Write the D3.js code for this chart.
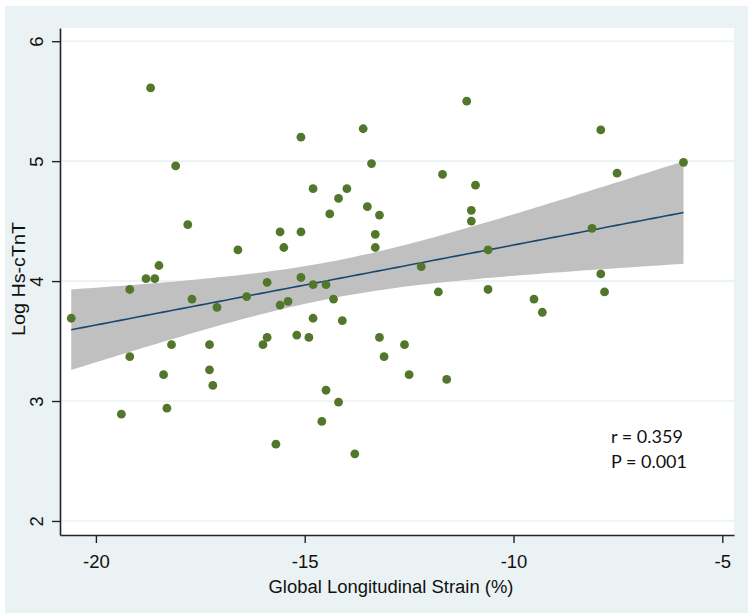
<!DOCTYPE html>
<html>
<head>
<meta charset="utf-8">
<script src="https://cdn.jsdelivr.net/npm/d3@7"></script>
<style>
  body { margin: 0; background: #fff; }
  svg { display: block; }
</style>
</head>
<body>
<div id="chart"></div>
<script>
// values
var gls = [-18.69, -18.09, -17.80, -18.49, -18.80, -18.59, -19.19, -17.70, -17.10, -20.59, -18.19, -17.28, -19.19, -18.38, -17.28, -17.20, -18.30, -19.39,
  -15.09, -13.60, -13.40, -14.80, -13.99, -14.19, -14.40, -13.50, -13.21, -15.59, -15.09, -13.31, -15.50, -13.31, -16.60, -15.09, -15.90, -14.80, -14.49, -16.39,
  -15.59, -15.40, -14.31, -14.80, -14.10, -15.90, -16.00, -15.19, -14.90, -13.21, -13.10, -14.49, -14.19, -14.59, -15.69, -13.80,
  -11.12, -11.70, -10.91, -11.01, -11.01, -10.61, -12.21, -11.80, -10.61, -9.51, -9.31, -12.61, -12.50, -11.60,
  -7.91, -7.52, -5.93, -8.12, -7.91, -7.82];
var logTnT = [5.61, 4.96, 4.47, 4.13, 4.02, 4.02, 3.93, 3.85, 3.78, 3.69, 3.47, 3.47, 3.37, 3.22, 3.26, 3.13, 2.94, 2.89,
  5.20, 5.27, 4.98, 4.77, 4.77, 4.69, 4.56, 4.62, 4.55, 4.41, 4.41, 4.39, 4.28, 4.28, 4.26, 4.03, 3.99, 3.97, 3.97, 3.87,
  3.80, 3.83, 3.85, 3.69, 3.67, 3.53, 3.47, 3.55, 3.53, 3.53, 3.37, 3.09, 2.99, 2.83, 2.64, 2.56,
  5.50, 4.89, 4.80, 4.59, 4.50, 4.26, 4.12, 3.91, 3.93, 3.85, 3.74, 3.47, 3.22, 3.18,
  5.26, 4.90, 4.99, 4.44, 4.06, 3.91];
var xTicks = [-20, -15, -10, -5];
var yTicks = [2, 3, 4, 5, 6];
var statLines = ["r = 0.359", "P = 0.001"];

var W = 748, H = 615;
var plot = {left: 60, top: 28, right: 734, bottom: 535};
var axisFont = "'Liberation Sans', Arial, sans-serif";

var svg = d3.select("#chart").append("svg")
    .attr("width", W)
    .attr("height", H);

// graph region + plot region
svg.append("rect").attr("x", 5).attr("y", 6).attr("width", W - 5).attr("height", 607).attr("fill", "#eaf2f3");
svg.append("rect").attr("x", plot.left).attr("y", plot.top)
    .attr("width", plot.right - plot.left).attr("height", plot.bottom - plot.top).attr("fill", "#fff");

var x = d3.scaleLinear().domain([-20.86, -4.72]).range([plot.left, plot.right]);
var y = d3.scaleLinear().domain([1.883, 6.11]).range([plot.bottom, plot.top]);

// grid
svg.append("g").selectAll("line").data(yTicks).enter().append("line")
    .attr("x1", plot.left).attr("x2", plot.right)
    .attr("y1", function(d) { return y(d); }).attr("y2", function(d) { return y(d); })
    .style("stroke", "#eaf2f3").style("stroke-width", 1.6);

// linear fit with 95% CI (like lfitci)
var pts = gls.map(function(g, i) { return {x: g, y: logTnT[i]}; });
var n = pts.length;
var mx = d3.mean(gls), my = d3.mean(logTnT);
var sxx = d3.sum(gls, function(d) { return (d - mx) * (d - mx); });
var sxy = d3.sum(pts, function(d) { return (d.x - mx) * (d.y - my); });
var b = sxy / sxx, a = my - b * mx;
var sse = d3.sum(pts, function(d) { var e = d.y - (a + b * d.x); return e * e; });
var s = Math.sqrt(sse / (n - 2));
var tval = 1.9935;
var xmin = d3.min(gls), xmax = d3.max(gls);
var fit = d3.range(0, 101).map(function(k) {
  var xv = xmin + (xmax - xmin) * k / 100;
  var yh = a + b * xv;
  var se = s * Math.sqrt(1 / n + (xv - mx) * (xv - mx) / sxx);
  return {x: xv, y: yh, lo: yh - tval * se, hi: yh + tval * se};
});

var band = d3.area()
    .x(function(d) { return x(d.x); })
    .y0(function(d) { return y(d.lo); })
    .y1(function(d) { return y(d.hi); });
svg.append("path").datum(fit).attr("d", band).style("fill", "#c0c0c0").style("stroke", "none");

var line = d3.line()
    .x(function(d) { return x(d.x); })
    .y(function(d) { return y(d.y); });
svg.append("path").datum(fit).attr("d", line)
    .style("fill", "none").style("stroke", "#1a476f").style("stroke-width", 1.6);

// points
svg.append("g").selectAll("circle").data(pts).enter().append("circle")
    .attr("cx", function(d) { return x(d.x); })
    .attr("cy", function(d) { return y(d.y); })
    .attr("r", 4.4)
    .style("fill", "#53772a");

// axes
var x_axis = d3.axisBottom(x).tickValues(xTicks).tickSize(8).tickSizeOuter(0).tickFormat(d3.format("d"));
var y_axis = d3.axisLeft(y).tickValues(yTicks).tickSize(8).tickSizeOuter(0).tickFormat(d3.format("d"));

var gx = svg.append("g").attr("transform", "translate(0," + plot.bottom + ")").call(x_axis);
var gy = svg.append("g").attr("transform", "translate(" + plot.left + ",0)").call(y_axis);

[gx, gy].forEach(function(g) {
  g.select(".domain").style("stroke", "#222").style("stroke-width", 1.6);
  g.selectAll(".tick line").style("stroke", "#222").style("stroke-width", 1.4);
  g.selectAll("text").style("font-family", axisFont)
    .style("font-size", "18.5px").style("fill", "#111");
});
gx.selectAll(".tick text").attr("y", 20).attr("dy", "0.71em").text(function(d) { return d3.format("d")(d).replace("−", "-"); });
gy.selectAll(".tick text")
    .attr("transform", "rotate(-90)")
    .attr("x", 0).attr("y", -17).attr("dy", 0)
    .attr("text-anchor", "middle");

// titles
svg.append("text")
    .attr("x", 391).attr("y", 593)
    .attr("text-anchor", "middle")
    .attr("textLength", 245).attr("lengthAdjust", "spacingAndGlyphs")
    .style("font-family", axisFont).style("font-size", "18px").style("fill", "#111")
    .text("Global Longitudinal Strain (%)");
svg.append("text")
    .attr("transform", "translate(25,279) rotate(-90)")
    .attr("text-anchor", "middle")
    .attr("textLength", 114).attr("lengthAdjust", "spacingAndGlyphs")
    .style("font-family", axisFont).style("font-size", "18px").style("fill", "#111")
    .text("Log Hs-cTnT");

// r / P note
svg.append("g").selectAll("text").data(statLines).enter().append("text")
    .attr("x", 611)
    .attr("y", function(d, i) { return 443 + i * 25; })
    .style("font-family", "Lato, 'Open Sans', sans-serif").style("font-size", "18px").style("fill", "#111")
    .text(function(d) { return d; });
</script>
</body>
</html>
